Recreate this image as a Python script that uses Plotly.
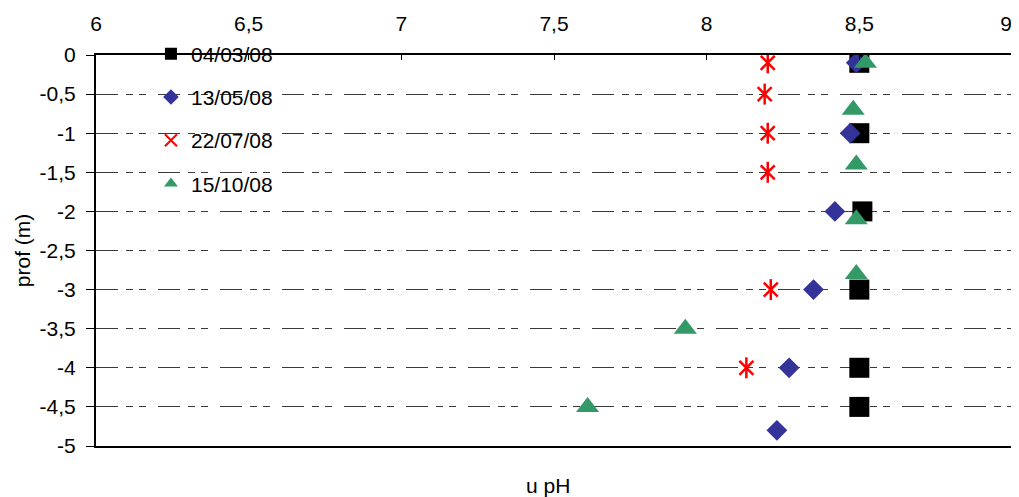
import plotly.graph_objects as go

# ---- data ----
sq_x = [8.50, 8.50, 8.51, 8.50, 8.50, 8.50]
sq_y = [-0.1, -1.0, -2.0, -3.0, -4.0, -4.5]

di_x = [8.49, 8.47, 8.42, 8.35, 8.27, 8.23]
di_y = [-0.1, -1.0, -2.0, -3.0, -4.0, -4.8]

st_x = [8.20, 8.19, 8.20, 8.20, 8.21, 8.13]
st_y = [-0.1, -0.5, -1.0, -1.5, -3.0, -4.0]

tr_x = [8.52, 8.48, 8.49, 8.49, 8.49, 7.93, 7.61]
tr_y = [-0.1, -0.7, -1.4, -2.1, -2.8, -3.5, -4.5]

names = ["04/03/08", "13/05/08", "22/07/08", "15/10/08"]

x_tickvals = [6, 6.5, 7, 7.5, 8, 8.5, 9]
x_ticktext = ["6", "6,5", "7", "7,5", "8", "8,5", "9\u00a0\u00a0"]
y_tickvals = [0, -0.5, -1, -1.5, -2, -2.5, -3, -3.5, -4, -4.5, -5]
y_ticktext = ["0", "-0,5", "-1", "-1,5", "-2", "-2,5", "-3", "-3,5", "-4", "-4,5", "-5"]

FONT = "Liberation Sans, Arial, sans-serif"
FS = 21

fig = go.Figure()
fig.add_trace(go.Scatter(x=sq_x, y=sq_y, mode="markers", name=names[0], legendgroup="a",
                         marker=dict(symbol="square", size=20, color="#000000")))
fig.add_trace(go.Scatter(x=di_x, y=di_y, mode="markers", name=names[1], legendgroup="b",
                         marker=dict(symbol="diamond", size=16, color="#333399")))
fig.add_trace(go.Scatter(x=st_x, y=st_y, mode="markers", name=names[2], legendgroup="c",
                         marker=dict(symbol="x-thin-open", size=14, color="#FF0000",
                                     line=dict(color="#FF0000", width=2.5))))
fig.add_trace(go.Scatter(x=st_x, y=st_y, mode="markers", name=names[2], legendgroup="c",
                         showlegend=False,
                         marker=dict(symbol="line-ns-open", size=15, color="#FF0000",
                                     line=dict(color="#FF0000", width=2.5))))
fig.add_trace(go.Scatter(x=tr_x, y=tr_y, mode="markers", name=names[3], legendgroup="d",
                         marker=dict(symbol="triangle-up", size=20, color="#339966")))

grid_dash = "22px,8px,7px,6px,7px,12px"

# page body has an 8px default margin; figure is sized to fill the rest
fig.update_layout(
    width=1011, height=489,
    margin=dict(l=88, r=7, t=47, b=51, autoexpand=False),
    paper_bgcolor="white", plot_bgcolor="white",
    font=dict(family=FONT, size=FS, color="#000000"),
    showlegend=True,
    legend=dict(x=0.06, y=1.055, xanchor="left", yanchor="top",
                bgcolor="rgba(0,0,0,0)", borderwidth=0,
                font=dict(family=FONT, size=FS, color="#000000"),
                itemsizing="constant", tracegroupgap=13, itemwidth=30),
    xaxis=dict(side="top", range=[6, 9], tickvals=x_tickvals, ticktext=x_ticktext,
               showgrid=False, zeroline=False, automargin=False,
               showline=True, linecolor="#000000", linewidth=2, mirror=True,
               ticks="inside", ticklen=5, tickcolor="#000000", tickwidth=1,
               ticklabelstandoff=14, ticklabeloverflow="allow",
               tickfont=dict(family=FONT, size=FS, color="#000000")),
    yaxis=dict(range=[-5, 0], tickvals=y_tickvals, ticktext=y_ticktext,
               showgrid=True, gridcolor="#3a3a3a", gridwidth=1, griddash=grid_dash,
               zeroline=False, automargin=False,
               showline=True, linecolor="#000000", linewidth=2,
               ticks="outside", ticklen=8, tickcolor="#000000", tickwidth=1,
               ticklabelstandoff=6,
               tickfont=dict(family=FONT, size=FS, color="#000000")),
    shapes=[dict(type="line", xref="paper", yref="paper", x0=1, x1=1, y0=0, y1=1,
                 line=dict(color="#808080", width=2))],
    annotations=[
        dict(text="u pH", xref="paper", yref="paper", x=0.493, y=-0.1,
             xanchor="center", yanchor="middle", showarrow=False,
             font=dict(family=FONT, size=FS, color="#000000")),
        dict(text="prof (m)", xref="paper", yref="paper", x=-0.080, y=0.5,
             xanchor="center", yanchor="middle", textangle=-90, showarrow=False,
             font=dict(family=FONT, size=FS, color="#000000")),
    ],
)

fig.write_html("out.html")
